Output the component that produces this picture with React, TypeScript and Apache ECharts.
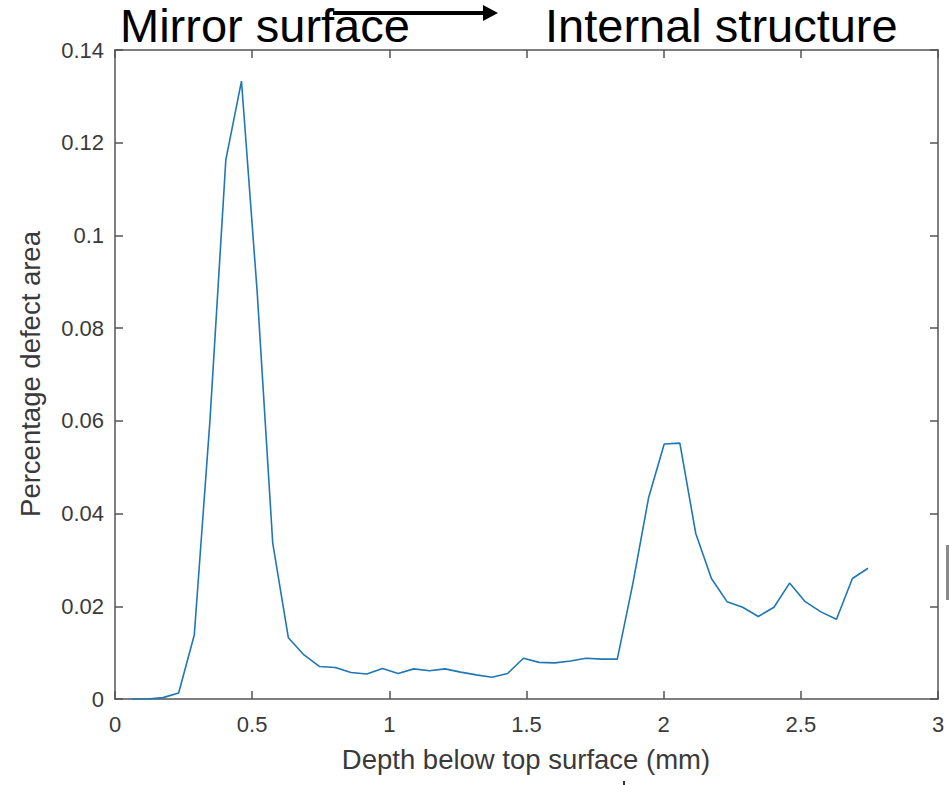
import React, { useEffect, useRef } from "react";
import * as echarts from "echarts";

const depthMm = [
  0.061, 0.118, 0.175, 0.232, 0.289, 0.346, 0.404, 0.461, 0.518, 0.575, 0.632, 0.689,
  0.746, 0.803, 0.86, 0.918, 0.975, 1.032, 1.089, 1.146, 1.203, 1.26, 1.317, 1.374,
  1.431, 1.489, 1.546, 1.603, 1.66, 1.717, 1.774, 1.831, 1.888, 1.945, 2.002, 2.059,
  2.117, 2.174, 2.231, 2.288, 2.345, 2.402, 2.459, 2.516, 2.573, 2.63, 2.688, 2.745,
];

const defectArea = [
  0, 0, 0.0003, 0.0013, 0.0138, 0.06, 0.1163, 0.1333, 0.088, 0.0336, 0.0132, 0.0095,
  0.007, 0.0068, 0.0057, 0.0054, 0.0066, 0.0055, 0.0065, 0.0061, 0.0065, 0.0058, 0.0052, 0.0047,
  0.0055, 0.0088, 0.0079, 0.0078, 0.0082, 0.0088, 0.0086, 0.0086, 0.025, 0.0434, 0.055, 0.0552,
  0.0357, 0.026, 0.021, 0.0198, 0.0178, 0.0198, 0.025, 0.021, 0.0188, 0.0172, 0.026, 0.0282,
];

const xTitle = "Depth below top surface (mm)";
const yTitle = "Percentage defect area";
const leftLabel = "Mirror surface";
const rightLabel = "Internal structure";

const FONT = "Liberation Sans, Arial, sans-serif";
const AXIS_COLOR = "#555555";
const LABEL_COLOR = "#3a3a3a";

export default function App() {
  const ref = useRef<HTMLDivElement>(null);

  useEffect(() => {
    if (!ref.current) return;
    const chart = echarts.init(ref.current, undefined, { renderer: "svg" });
    const points = depthMm.map((d, i) => [d, defectArea[i]]);

    const axisLine = { show: true, onZero: false, lineStyle: { color: AXIS_COLOR, width: 1.5 } };
    const axisTick = { show: true, inside: true, length: 8, lineStyle: { color: AXIS_COLOR, width: 1.5 } };

    chart.setOption({
      animation: false,
      backgroundColor: "#ffffff",
      grid: { left: 115, right: 11, top: 50, bottom: 86, containLabel: false },
      xAxis: [
        {
          type: "value",
          min: 0,
          max: 3,
          interval: 0.5,
          position: "bottom",
          axisLine,
          axisTick,
          splitLine: { show: false },
          axisLabel: { color: LABEL_COLOR, fontSize: 22, fontFamily: FONT, margin: 14 },
        },
        {
          type: "value",
          min: 0,
          max: 3,
          interval: 0.5,
          position: "top",
          axisLine,
          axisTick,
          splitLine: { show: false },
          axisLabel: { show: false },
        },
      ],
      yAxis: [
        {
          type: "value",
          min: 0,
          max: 0.14,
          interval: 0.02,
          position: "left",
          axisLine,
          axisTick,
          splitLine: { show: false },
          axisLabel: { color: LABEL_COLOR, fontSize: 22, fontFamily: FONT, margin: 11 },
        },
        {
          type: "value",
          min: 0,
          max: 0.14,
          interval: 0.02,
          position: "right",
          axisLine,
          axisTick,
          splitLine: { show: false },
          axisLabel: { show: false },
        },
      ],
      series: [
        {
          type: "line",
          xAxisIndex: 0,
          yAxisIndex: 0,
          data: points,
          showSymbol: false,
          symbol: "none",
          lineStyle: { color: "#1f77b4", width: 1.6 },
        },
      ],
      graphic: [
        {
          type: "text",
          x: 120,
          y: 25,
          style: { text: leftLabel, fontSize: 47, fontFamily: FONT, fill: "#000", align: "left", verticalAlign: "middle" },
        },
        {
          type: "text",
          x: 545,
          y: 25,
          style: { text: rightLabel, fontSize: 47, fontFamily: FONT, fill: "#000", align: "left", verticalAlign: "middle" },
        },
        {
          type: "line",
          shape: { x1: 333, y1: 13, x2: 486, y2: 13 },
          style: { stroke: "#000", lineWidth: 4 },
        },
        {
          type: "polygon",
          shape: { points: [[483, 5], [498, 13], [483, 21]] },
          style: { fill: "#000" },
        },
        {
          type: "text",
          x: 526,
          y: 759,
          style: { text: xTitle, fontSize: 27.5, fontFamily: FONT, fill: LABEL_COLOR, align: "center", verticalAlign: "middle" },
        },
        {
          type: "text",
          x: 30,
          y: 374,
          rotation: Math.PI / 2,
          style: { text: yTitle, fontSize: 27.5, fontFamily: FONT, fill: LABEL_COLOR, align: "center", verticalAlign: "middle" },
        },
        {
          type: "rect",
          shape: { x: 946, y: 545, width: 3, height: 55 },
          style: { fill: "#8a8a8a" },
        },
        {
          type: "rect",
          shape: { x: 623, y: 781, width: 2, height: 4 },
          style: { fill: "#333" },
        },
      ],
    });

    return () => chart.dispose();
  }, []);

  return (
    <div
      ref={ref}
      style={{ position: "absolute", left: 0, top: 0, width: 949, height: 785, background: "#fff" }}
    />
  );
}
